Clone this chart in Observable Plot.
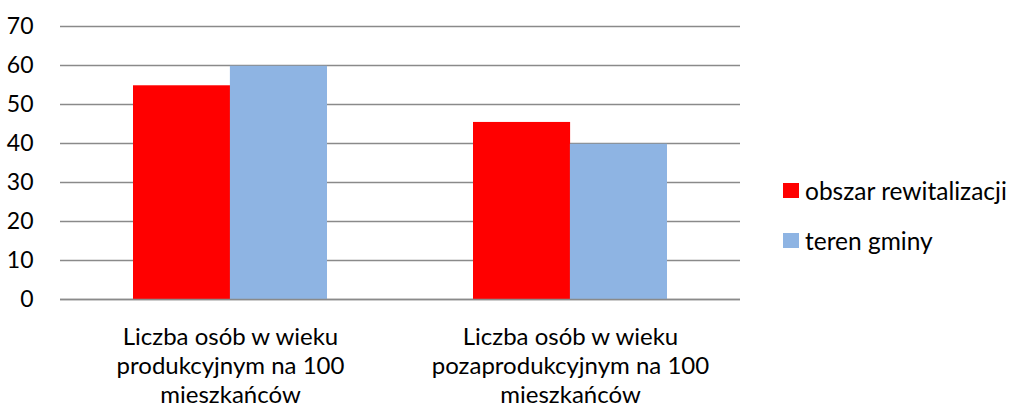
<!DOCTYPE html>
<html>
<head>
<meta charset="utf-8">
<script src="https://cdn.jsdelivr.net/npm/d3@7"></script>
<script src="https://cdn.jsdelivr.net/npm/@observablehq/plot@0.6"></script>
<style>
  html, body { margin: 0; padding: 0; background: #fff; }
  #wrap { position: relative; width: 1011px; height: 408px; font-family: Lato, "Open Sans", sans-serif; }
  #legend { position: absolute; left: 783px; top: 0; font-size: 24.5px; color: #000; }
  .item { position: absolute; left: 0; display: flex; align-items: center; height: 30px; white-space: nowrap; }
  .sw { width: 16px; height: 15px; margin-right: 6px; flex: none; }
</style>
</head>
<body>
<div id="wrap"><div id="legend"></div></div>
<script>
const categories = [
  "Liczba osób w wieku\nprodukcyjnym na 100\nmieszkańców",
  "Liczba osób w wieku\npozaprodukcyjnym na 100\nmieszkańców"
];
const seriesNames = ["obszar rewitalizacji", "teren gminy"];
const seriesColors = ["#FF0000", "#8EB4E3"];
const obszar = [54.8, 45.4];
const teren = [59.8, 39.8];
const yTicks = [0, 10, 20, 30, 40, 50, 60, 70];

const W = 1011, H = 408;
const mL = 60, mR = 271, mT = 26, mB = 109;
const xOpts = {type: "band", domain: categories, paddingInner: 0.43, paddingOuter: 0.215};
const bw = Plot.scale({x: {...xOpts, range: [mL, W - mR]}}).bandwidth;

const data = categories.map((c, i) => ({cat: c, a: obszar[i], b: teren[i]}));

const chart = Plot.plot({
  width: W, height: H,
  marginLeft: mL, marginRight: mR, marginTop: mT, marginBottom: mB,
  style: {fontFamily: "Lato, 'Open Sans', sans-serif", background: "#fff", overflow: "visible"},
  x: xOpts,
  y: {domain: [0, 70], ticks: yTicks},
  marks: [
    Plot.ruleY(yTicks, {stroke: "#8a8a8a", strokeWidth: 1.5}),
    Plot.barY(data, {x: "cat", y: "a", fill: seriesColors[0], insetLeft: 0, insetRight: bw / 2}),
    Plot.barY(data, {x: "cat", y: "b", fill: seriesColors[1], insetLeft: bw / 2, insetRight: 0}),
    Plot.ruleX([0], {x: () => null, frameAnchor: "left", y1: 0, y2: 70, stroke: "#8a8a8a", strokeWidth: 1.5}),
    Plot.ruleY([0], {stroke: "#8a8a8a", strokeWidth: 1.5}),
    Plot.axisY({ticks: yTicks, tickSize: 0, tickPadding: 27, fontSize: 23, fill: "#000", label: null}),
    Plot.axisX({tickSize: 0, tickPadding: 25, fontSize: 24, lineHeight: 1.2, fill: "#000", label: null})
  ]
});
document.getElementById("wrap").prepend(chart);

const legend = document.getElementById("legend");
const centers = [190, 240];
seriesNames.forEach((n, i) => {
  const it = document.createElement("div");
  it.className = "item";
  it.style.top = (centers[i] - 15) + "px";
  it.innerHTML = `<div class="sw" style="background:${seriesColors[i]}"></div><span>${n}</span>`;
  legend.appendChild(it);
});
</script>
</body>
</html>
